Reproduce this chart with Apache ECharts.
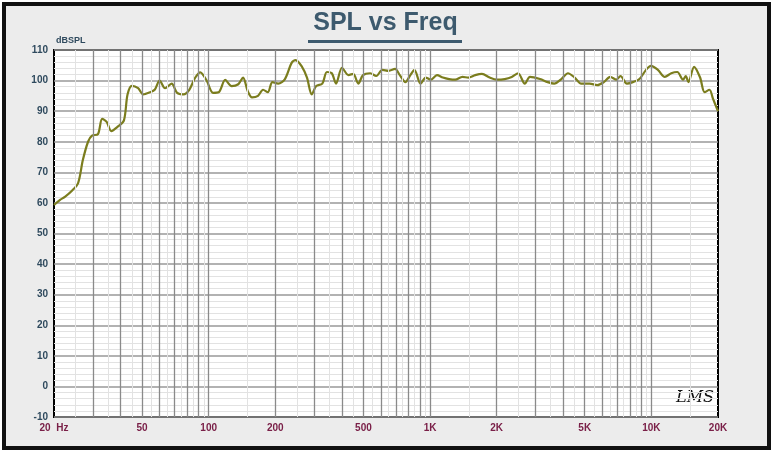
<!DOCTYPE html>
<html>
<head>
<meta charset="utf-8">
<script src="https://cdn.jsdelivr.net/npm/echarts@6/dist/echarts.min.js"></script>
<style>
  html, body { margin: 0; padding: 0; background: #fff; }
  #frame { position: absolute; left: 2px; top: 2px; width: 761px; height: 440px;
           border: 4px solid #111; background: #ececec; }
  #chart { position: absolute; left: 0; top: 0; width: 771px; height: 450px; }
</style>
</head>
<body>
<div id="frame"></div>
<div id="chart"></div>
<script>
// frequency response
const freqs = [20, 21.3, 22.4, 24.1, 25.7, 27, 28.5, 29.7, 31.6, 33, 34.6, 36.3, 38.9, 41.4, 43, 45, 48, 50.6, 54.3, 57,
  60, 63.5, 68, 72, 77, 81.7, 87, 91.6, 97.6, 104.6, 111, 118.7, 127, 136, 143, 150, 157, 167, 176, 185,
  194, 206, 221, 237, 247, 264, 278, 292, 306, 326, 342, 360, 376, 400, 428, 450, 474, 498, 537, 571,
  609, 650, 695, 730, 774, 815, 850, 906, 956, 1007, 1075, 1143, 1219, 1300, 1400, 1490, 1600, 1716, 1860, 2000,
  2175, 2340, 2500, 2680, 2830, 3140, 3400, 3640, 3920, 4200, 4500, 4820, 5260, 5700, 6100, 6520, 6950, 7250, 7750, 8250,
  8830, 9460, 9960, 10700, 11500, 12300, 13100, 13900, 14300, 14700, 15600, 16600, 17400, 18300, 19000, 20000];
const spl = [59.3, 61, 62, 64, 66.5, 74, 80, 82, 82.5, 87.5, 86.5, 83.5, 85, 87, 95.5, 98.3, 97.5, 95.5, 96.2, 97,
  100, 97.5, 99, 96, 95.5, 97, 101, 102.7, 100.2, 96, 96.2, 100.2, 98.2, 98.8, 101, 96.6, 94.5, 95, 97, 96.2,
  99.5, 99, 100.5, 105.8, 106.7, 104.5, 101, 95.5, 98.2, 99, 102.8, 102.4, 99, 104.2, 101.8, 102.2, 99, 101.8, 102.4, 101.5,
  103.5, 103.2, 103.8, 101.8, 99.5, 101.8, 103.5, 99, 101, 100.3, 101.8, 101, 100.5, 100.3, 101.2, 101, 101.8, 102.2, 101, 100.3,
  100.5, 101.2, 102.4, 99, 101.2, 100.5, 99.5, 99, 100.5, 102.4, 101, 99, 99, 98.5, 99.5, 101.2, 100.3, 101.5, 99, 99.5,
  100.5, 103.5, 104.8, 103.5, 101.2, 102.4, 102.8, 100.3, 101.5, 99.5, 104.5, 101, 96.2, 97, 94, 90];

const tickFreqs = [20, 50, 100, 200, 500, 1000, 2000, 5000, 10000, 20000];
const tickNames = ['20  Hz', '50', '100', '200', '500', '1K', '2K', '5K', '10K', '20K'];

// vertical grid: dark at integer steps per decade, light at half steps
const majorV = [], minorV = [];
[10, 100, 1000, 10000].forEach(d => {
  for (let k = 1; k < 10; k++) {
    const f = k * d;
    if (f > 20 && f < 20000) majorV.push(f);
    const h = (k + 0.5) * d;
    if (h > 20 && h < 20000) minorV.push(h);
  }
});

const chart = echarts.init(document.getElementById('chart'));
chart.setOption({
  animation: false,
  title: {
    text: 'SPL vs Freq', left: 'center', top: 6,
    textStyle: { color: '#3d5a6e', fontSize: 25, fontWeight: 'bold', fontFamily: 'Liberation Sans, Arial' }
  },
  graphic: [
    { type: 'rect', shape: { x: 308, y: 40, width: 154, height: 3 }, style: { fill: '#3d5a6e' } },
    { type: 'text', left: 56, top: 36, style: { text: 'dBSPL', fill: '#2f4a5e', font: 'bold 9px Liberation Sans' } },
    { type: 'text', left: 676, top: 390, style: { text: 'LMS', fill: '#111', font: 'italic 16px DejaVu Serif' } }
  ],
  grid: { left: 54, right: 53, top: 50, bottom: 33, show: true, backgroundColor: '#fff', borderColor: '#000', borderWidth: 2 },
  xAxis: {
    type: 'log', logBase: 10, min: 20, max: 20000,
    axisLine: { show: false }, axisTick: { show: false }, axisLabel: { show: false }, splitLine: { show: false }
  },
  yAxis: {
    type: 'value', min: -10, max: 110, interval: 10,
    axisLine: { show: false }, axisTick: { show: false },
    axisLabel: { color: '#2f4a5e', fontSize: 10, fontWeight: 'bold', margin: 6 },
    splitLine: { lineStyle: { color: '#999', width: 1.5 } },
    minorTick: { show: false, splitNumber: 5 },
    minorSplitLine: { show: true, lineStyle: { color: '#e2e2e2' } }
  },
  series: [
    {
      type: 'line', data: [], silent: true,
      markLine: {
        symbol: 'none', silent: true, animation: false,
        lineStyle: { color: '#e2e2e2', width: 1, type: 'solid' },
        label: { show: false },
        data: minorV.map(f => ({ xAxis: f }))
      }
    },
    {
      type: 'line', data: [], silent: true,
      markLine: {
        symbol: 'none', silent: true, animation: false,
        lineStyle: { color: '#8a8a8a', width: 1.3, type: 'solid' },
        label: { show: false },
        data: majorV.map(f => ({ xAxis: f }))
      }
    },
    {
      type: 'line', data: [], silent: true,
      markLine: {
        symbol: 'none', silent: true, animation: false,
        lineStyle: { color: 'rgba(0,0,0,0)', width: 0 },
        label: { show: true, position: 'start', color: '#7a2048', fontSize: 10, fontWeight: 'bold', distance: 6 },
        data: tickFreqs.map((f, i) => ({ xAxis: f, label: { show: true, formatter: tickNames[i] } }))
      }
    },
    {
      type: 'line', smooth: 0.3, symbol: 'none',
      lineStyle: { color: '#7b7d1e', width: 2.2 },
      data: freqs.map((f, i) => [f, spl[i]])
    }
  ]
});
</script>
</body>
</html>
